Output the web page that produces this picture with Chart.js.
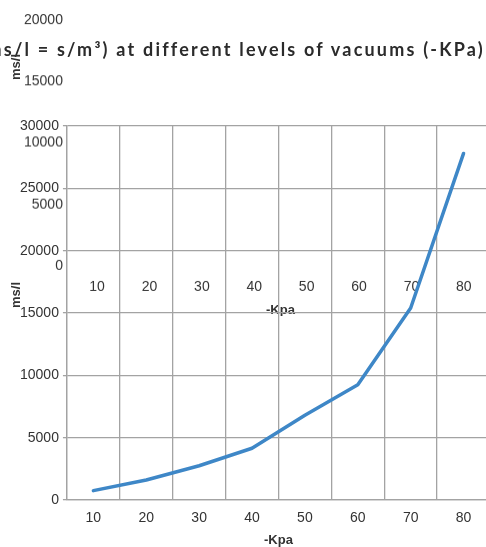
<!DOCTYPE html>
<html>
<head>
<meta charset="utf-8">
<script src="https://cdn.jsdelivr.net/npm/chart.js@4.4.1/dist/chart.umd.min.js"></script>
<style>
html,body{margin:0;padding:0;width:486px;height:547px;overflow:hidden;background:#fff;}
#ghost{position:absolute;left:0;top:0;width:490px;height:315.5px;}
#main{position:absolute;left:0;top:0;width:490px;height:547px;}
.title{position:absolute;right:1px;top:38px;white-space:nowrap;font-family:Lato,sans-serif;font-weight:700;font-size:18px;letter-spacing:2.2px;color:#2b2b2b;line-height:22px;}
.ylab{position:absolute;font-family:"Liberation Sans",Arial,sans-serif;font-weight:700;font-size:13px;color:#333;transform:translate(-50%,-50%) rotate(-90deg);white-space:nowrap;}
</style>
</head>
<body>
<div id="ghost"><canvas id="gc"></canvas></div>
<div class="title">(ms/l = s/m³) at different levels of vacuums (-KPa)</div>
<div class="ylab" style="left:15px;top:67px;">ms/l</div>
<div class="ylab" style="left:15px;top:295px;">ms/l</div>
<div id="main"><canvas id="mc"></canvas></div>
<script>
const categories = ["10","20","30","40","50","60","70","80"];
const resistance = [750, 1600, 2750, 4150, 6800, 9250, 15400, 27800];
const yTitle = "ms/l";
const xTitle = "-Kpa";
const mainYMax = 30000;
const ghostYMax = 20000;
const yStep = 5000;

const tickFont = {family: "'Liberation Sans', Arial, sans-serif", size: 14};
const titleFont = {family: "'Liberation Sans', Arial, sans-serif", size: 13, weight: "bold", lineHeight: 1.0};
const textColor = "#333333";
const gridColor = "#a3a3a3";
const plain = v => String(v);

// ghost (underlying) chart layer
new Chart(document.getElementById('gc'), {
  type: 'line',
  data: {labels: categories, datasets: [{data: [], borderWidth: 0, pointRadius: 0}]},
  options: {
    responsive: true, maintainAspectRatio: false, animation: false,
    layout: {padding: {left: 16, right: 0, top: 20, bottom: 0}},
    plugins: {legend: {display: false}, tooltip: {enabled: false}},
    scales: {
      x: {offset: true, grid: {display: false, drawTicks: false}, border: {display: false},
          ticks: {font: tickFont, color: textColor, padding: 12.6, maxRotation: 0},
          title: {display: true, text: xTitle, font: titleFont, color: textColor, padding: {top: -4.5, bottom: 0}}},
      y: {min: 0, max: ghostYMax, grid: {display: false, drawTicks: false}, border: {display: false},
          ticks: {stepSize: yStep, font: tickFont, color: textColor, padding: 8, callback: plain}}
    }
  }
});

// main chart
new Chart(document.getElementById('mc'), {
  type: 'line',
  data: {labels: categories, datasets: [{
    data: resistance, borderColor: '#3e87c7', borderWidth: 3.5, pointRadius: 0,
    tension: 0, borderJoinStyle: 'round', borderCapStyle: 'round', fill: false
  }]},
  options: {
    responsive: true, maintainAspectRatio: false, animation: false,
    layout: {padding: {left: 16, right: 0, top: 126, bottom: 0}},
    plugins: {legend: {display: false}, tooltip: {enabled: false}},
    scales: {
      x: {offset: true, grid: {offset: true, color: gridColor, lineWidth: 1.3, drawTicks: false},
          border: {color: gridColor, width: 1.3},
          ticks: {font: tickFont, color: textColor, padding: 9.6, maxRotation: 0},
          title: {display: true, text: xTitle, font: titleFont, color: textColor, padding: {top: -2, bottom: 0}}},
      y: {min: 0, max: mainYMax,
          grid: {color: gridColor, lineWidth: 1.3, tickLength: 4},
          border: {color: gridColor, width: 1.3},
          ticks: {stepSize: yStep, font: tickFont, color: textColor, padding: 4, callback: plain}}
    }
  }
});
</script>
</body>
</html>
